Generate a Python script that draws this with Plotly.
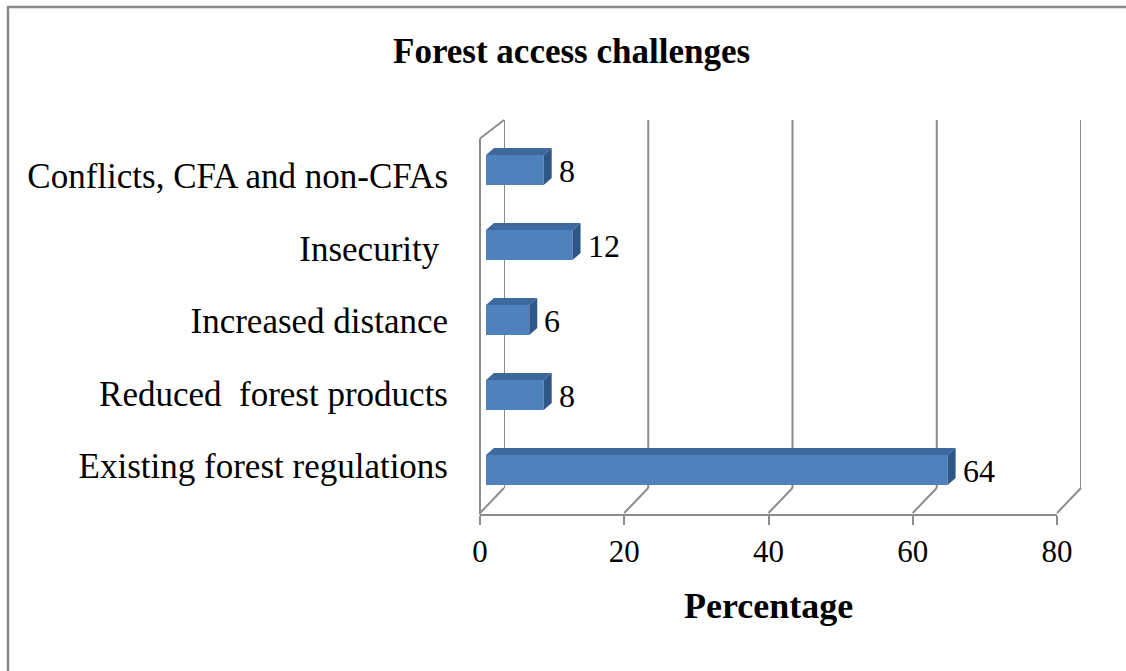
import plotly.graph_objects as go

# ---- data -------------------------------------------------------------
categories = [
    "Existing forest regulations",
    "Reduced  forest products",
    "Increased distance",
    "Insecurity\u00a0",
    "Conflicts, CFA and non-CFAs",
]
percentages = [64, 8, 6, 12, 8]
x_ticks = [0, 20, 40, 60, 80]
x_max = 80

chart_title = "Forest access challenges"
x_title = "Percentage"

# ---- page / geometry (pixels) ------------------------------------------
W, H = 1126, 671
SERIF = "Liberation Serif, Times New Roman, serif"
GRID = "#8c8c8c"
BAR_FRONT = "#4f81bd"
BAR_TOP = "#3d689d"
BAR_SIDE = "#2e5688"

# three planes of the pseudo-3D box: front (axes), bars, back wall (grid)
FRONT = dict(x0=480, x1=1057, top=139.5, bottom=514.5)
BARS = dict(x0=486, x1=1063, top=132.5, bottom=507.5)
BACK = dict(x0=504, x1=1081, top=120, bottom=488)
# band used for the category labels (slightly tighter than the bars)
LABELS = dict(x0=480, x1=1057, top=139.75, bottom=502.25)


def xdom(p):
    return [p["x0"] / W, p["x1"] / W]


def ydom(p):
    return [1 - p["bottom"] / H, 1 - p["top"] / H]


def px_x(px):
    return px / W


def px_y(py):
    return 1 - py / H


fig = go.Figure()

# bars on the middle plane
fig.add_trace(go.Bar(
    x=percentages, y=categories, orientation="h",
    xaxis="x3", yaxis="y3", width=0.4,
    marker=dict(color=BAR_FRONT, line=dict(width=0)),
    hoverinfo="x+y",
))

# empty traces so the front and back subplots get drawn
fig.add_trace(go.Scatter(x=[None], y=[None], xaxis="x", yaxis="y",
                         showlegend=False, hoverinfo="skip"))
fig.add_trace(go.Scatter(x=[None], y=[None], xaxis="x2", yaxis="y2",
                         showlegend=False, hoverinfo="skip"))

shapes = []
annotations = []

# back-wall grid lines, one per tick
for t in x_ticks:
    shapes.append(dict(type="line", xref="x2", yref="paper",
                       x0=t, x1=t, y0=px_y(BACK["bottom"]), y1=px_y(BACK["top"]),
                       line=dict(color=GRID, width=2), layer="below"))

# floor diagonals joining front ticks to back grid lines
front_unit = (FRONT["x1"] - FRONT["x0"]) / x_max
back_unit = (BACK["x1"] - BACK["x0"]) / x_max
for t in x_ticks:
    fx = FRONT["x0"] + t * front_unit
    bx = BACK["x0"] + t * back_unit
    shapes.append(dict(type="line", xref="paper", yref="paper",
                       x0=px_x(fx), y0=px_y(FRONT["bottom"] - 1.5),
                       x1=px_x(bx), y1=px_y(BACK["bottom"]),
                       line=dict(color=GRID, width=2), layer="below"))

# left wall: front edge and top edge
shapes.append(dict(type="line", xref="paper", yref="paper",
                   x0=px_x(FRONT["x0"]), y0=px_y(FRONT["top"] - 1),
                   x1=px_x(FRONT["x0"]), y1=px_y(FRONT["bottom"]),
                   line=dict(color=GRID, width=2), layer="below"))
shapes.append(dict(type="line", xref="paper", yref="paper",
                   x0=px_x(FRONT["x0"]), y0=px_y(FRONT["top"] - 1),
                   x1=px_x(BACK["x0"]), y1=px_y(BACK["top"]),
                   line=dict(color=GRID, width=2), layer="below"))

# depth of each bar (top and right faces)
unit_px = (BARS["x1"] - BARS["x0"]) / x_max
cat_px = (BARS["bottom"] - BARS["top"]) / len(categories)
DX = 8 / unit_px
DY = 7 / cat_px
HALF = 0.2
for i, v in enumerate(percentages):
    top_path = (f"M 0,{i + HALF} L {v},{i + HALF} L {v + DX},{i + HALF + DY} "
                f"L {DX},{i + HALF + DY} Z")
    side_path = (f"M {v},{i - HALF} L {v},{i + HALF} L {v + DX},{i + HALF + DY} "
                 f"L {v + DX},{i - HALF + DY} Z")
    shapes.append(dict(type="path", path=top_path, xref="x3", yref="y3",
                       fillcolor=BAR_TOP, line=dict(width=0), layer="above"))
    shapes.append(dict(type="path", path=side_path, xref="x3", yref="y3",
                       fillcolor=BAR_SIDE, line=dict(width=0), layer="above"))
    annotations.append(dict(
        x=v, y=categories[i], xref="x3", yref="y3", text=str(v),
        showarrow=False, xanchor="left", yanchor="middle", xshift=13, yshift=-1,
        font=dict(family=SERIF, size=32, color="#000000"),
    ))

# outer frame
shapes.append(dict(type="rect", xref="paper", yref="paper",
                   x0=px_x(8), y0=px_y(7), x1=px_x(W + 20), y1=px_y(H + 20),
                   line=dict(color="#8a8a8a", width=2.5), layer="below"))

# titles
annotations.append(dict(
    x=px_x(571), y=px_y(52), xref="paper", yref="paper",
    text=f"<b>{chart_title}</b>", showarrow=False,
    xanchor="center", yanchor="middle",
    font=dict(family=SERIF, size=35, color="#000000"),
))
annotations.append(dict(
    x=px_x((FRONT["x0"] + FRONT["x1"]) / 2), y=px_y(606), xref="paper", yref="paper",
    text=f"<b>{x_title}</b>", showarrow=False,
    xanchor="center", yanchor="middle",
    font=dict(family=SERIF, size=36, color="#000000"),
))

fig.update_layout(
    template="none",
    width=W, height=H, autosize=False,
    margin=dict(l=0, r=0, t=0, b=0, pad=0),
    paper_bgcolor="#ffffff", plot_bgcolor="rgba(0,0,0,0)",
    showlegend=False,
    font=dict(family=SERIF, color="#000000"),
    xaxis=dict(
        domain=xdom(FRONT), range=[0, x_max],
        anchor="free", position=px_y(FRONT["bottom"]), automargin=False,
        tickmode="array", tickvals=x_ticks,
        ticks="outside", ticklen=9, tickwidth=2, tickcolor=GRID,
        showline=True, linecolor=GRID, linewidth=2,
        showgrid=False, zeroline=False,
        tickfont=dict(family=SERIF, size=31, color="#000000"),
        fixedrange=True,
    ),
    yaxis=dict(
        domain=ydom(LABELS), type="category", categoryarray=categories,
        categoryorder="array", range=[-0.5, len(categories) - 0.5], anchor="x",
        automargin=False, showline=False,
        ticks="", ticklabelstandoff=31,
        showgrid=False, zeroline=False,
        tickfont=dict(family=SERIF, size=35, color="#000000"),
        fixedrange=True,
    ),
    xaxis2=dict(
        domain=xdom(BACK), range=[0, x_max], anchor="y2", automargin=False,
        showgrid=False, showticklabels=False, ticks="", showline=False,
        zeroline=False, fixedrange=True,
    ),
    yaxis2=dict(
        domain=ydom(BACK), range=[0, 1], anchor="x2", automargin=False,
        visible=False, fixedrange=True,
    ),
    xaxis3=dict(
        domain=xdom(BARS), range=[0, x_max], anchor="y3", automargin=False,
        visible=False, fixedrange=True,
    ),
    yaxis3=dict(
        domain=ydom(BARS), type="category", categoryarray=categories,
        categoryorder="array", range=[-0.5, len(categories) - 0.5], anchor="x3",
        automargin=False, visible=False, fixedrange=True,
    ),
    shapes=shapes,
    annotations=annotations,
)

fig.write_html("out.html")
